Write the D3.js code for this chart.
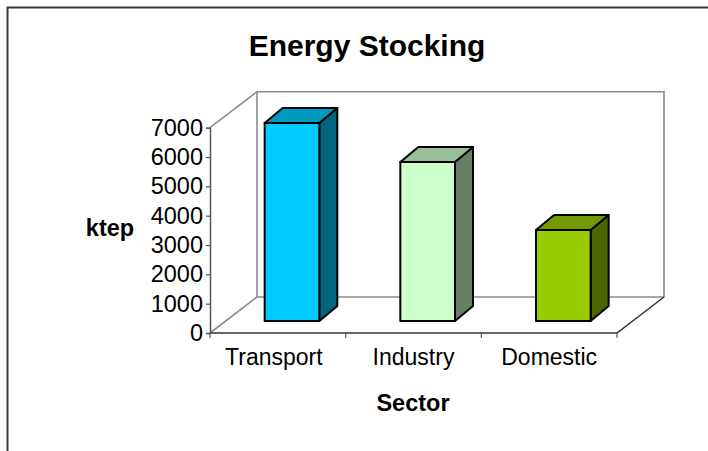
<!DOCTYPE html>
<html>
<head>
<meta charset="utf-8">
<script src="https://cdn.jsdelivr.net/npm/d3@7"></script>
<style>
  html, body { margin: 0; padding: 0; background: #fff; }
  svg { display: block; font-family: "Liberation Sans", Arial, sans-serif; }
</style>
</head>
<body>
<svg id="chart" width="708" height="451"></svg>
<script>
// Energy stocking by sector (ktep)
const categories = ["Transport", "Industry", "Domestic"];
const values = [6750, 5420, 3100];
const yTicks = [0, 1000, 2000, 3000, 4000, 5000, 6000, 7000];
const frontColors = ["#00ccff", "#ccffcc", "#99cc00"];
const topColors = ["#0099bf", "#99bf99", "#739900"];
const sideColors = ["#006680", "#668066", "#4d6600"];

const svg = d3.select("#chart");

// Outer frame (top and left edges)
svg.append("path")
  .attr("d", "M7.5,451 L7.5,7.5 L708,7.5")
  .attr("fill", "none").attr("stroke", "#3a3a3a").attr("stroke-width", 2);

// Front plane of the 3D plot box
const x0 = 210, x1 = 617, yBase = 333;
const depth = { dx: 47, dy: -36 };           // full depth of the box
const x = d3.scaleBand().domain(categories).range([x0, x1]);
const y = d3.scaleLinear().domain([0, 7000]).range([yBase, 127.7]);

const wallColor = "#8c8c8c";
const yTop = y(7000);

// Back wall and left side wall
const wall = svg.append("g").attr("fill", "none").attr("stroke", wallColor).attr("stroke-width", 1.6);
wall.append("path").attr("d",
  `M${x0},${yTop} L${x0 + depth.dx},${yTop + depth.dy} L${x1 + depth.dx},${yTop + depth.dy} ` +
  `L${x1 + depth.dx},${yBase + depth.dy} L${x0 + depth.dx},${yBase + depth.dy} L${x0 + depth.dx},${yTop + depth.dy}`);
wall.append("path").attr("d", `M${x0},${yBase} L${x0 + depth.dx},${yBase + depth.dy}`);

// Floor front edge and right diagonal
svg.append("path")
  .attr("d", `M${x0},${yBase} L${x1},${yBase} L${x1 + depth.dx},${yBase + depth.dy}`)
  .attr("fill", "none").attr("stroke", "#333").attr("stroke-width", 1.5);

// Value axis
const yAxis = d3.axisLeft(y).tickValues(yTicks).tickSize(4).tickPadding(3).tickFormat(d3.format("d"));
const gy = svg.append("g").attr("transform", `translate(${x0},0)`).call(yAxis);
gy.select(".domain").attr("stroke", "#555").attr("stroke-width", 1.5);
gy.selectAll(".tick line").attr("stroke", "#555").attr("stroke-width", 1.2);
gy.selectAll(".tick text").attr("font-size", 23.5).attr("fill", "#000")
  .attr("font-family", "Liberation Sans, Arial, sans-serif");

// Category axis ticks and labels
const catEdges = categories.map(c => x(c)).concat([x1]);
svg.append("g").selectAll("line").data(catEdges).join("line")
  .attr("x1", d => d).attr("x2", d => d)
  .attr("y1", yBase).attr("y2", yBase + 5)
  .attr("stroke", "#555").attr("stroke-width", 1.2);
svg.append("g").selectAll("text").data(categories).join("text")
  .attr("x", (d, i) => x(d) + x.bandwidth() / 2 - (i === 0 ? 4 : 0))
  .attr("y", 365)
  .attr("text-anchor", "middle")
  .attr("font-size", 23)
  .text(d => d);

// 3D bars
const barFront = { dx: depth.dx / 3, dy: depth.dy / 3 };   // where the bar face sits inside the box
const barDepth = { dx: 18, dy: -15 };
const barW = x.bandwidth() * 0.403;
const bars = svg.append("g").attr("stroke", "#000").attr("stroke-width", 2).attr("stroke-linejoin", "round");
categories.forEach((c, i) => {
  const cx = x(c) + x.bandwidth() / 2 + barFront.dx - 1.5;
  const l = cx - barW / 2, r = cx + barW / 2;
  const b = y(0) + barFront.dy, t = y(values[i]) + barFront.dy;
  const g = bars.append("g");
  // side face
  g.append("path").attr("fill", sideColors[i]).attr("d",
    `M${r},${b} L${r + barDepth.dx},${b + barDepth.dy} L${r + barDepth.dx},${t + barDepth.dy} L${r},${t} Z`);
  // top face
  g.append("path").attr("fill", topColors[i]).attr("d",
    `M${l},${t} L${l + barDepth.dx},${t + barDepth.dy} L${r + barDepth.dx},${t + barDepth.dy} L${r},${t} Z`);
  // front face
  g.append("rect").attr("fill", frontColors[i])
    .attr("x", l).attr("y", t).attr("width", barW).attr("height", b - t);
});

// Titles
svg.append("text").attr("x", 367).attr("y", 56).attr("text-anchor", "middle")
  .attr("font-size", 30).attr("font-weight", "bold").text("Energy Stocking");
svg.append("text").attr("x", 110).attr("y", 236).attr("text-anchor", "middle")
  .attr("font-size", 23.5).attr("font-weight", "bold").text("ktep");
svg.append("text").attr("x", 413).attr("y", 411).attr("text-anchor", "middle")
  .attr("font-size", 23.5).attr("font-weight", "bold").text("Sector");
</script>
</body>
</html>
